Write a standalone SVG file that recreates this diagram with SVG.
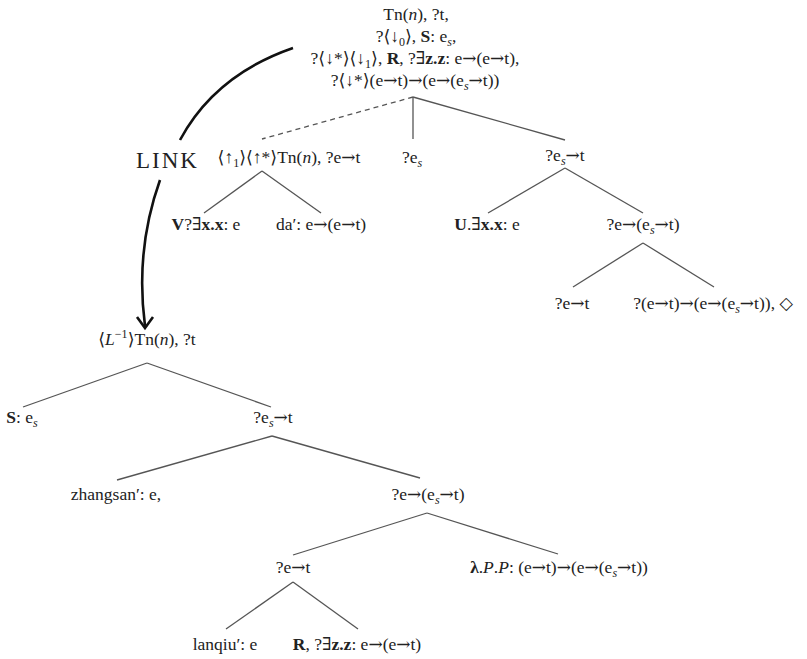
<svg xmlns="http://www.w3.org/2000/svg" width="807" height="659" viewBox="0 0 807 659">
<defs>
<style>
.t{font-family:"Liberation Serif","DejaVu Serif",serif;font-size:17.5px;fill:#222;text-anchor:middle}
.b{font-weight:bold}
.i{font-style:italic}
.s{font-size:12px;font-style:italic}
.sn{font-size:12px}
.a{font-family:"DejaVu Serif",serif;font-size:17px}
.e{stroke:#555;stroke-width:1.3;fill:none}
.d{stroke:#555;stroke-width:1.3;fill:none;stroke-dasharray:5 4}
.lk{stroke:#111;stroke-width:2.6;fill:none}
.link{font-family:"Liberation Serif","DejaVu Serif",serif;font-size:23px;fill:#222;letter-spacing:2px}
</style>
</defs>
<rect width="807" height="659" fill="#fff"/>
<g id="connectors">
<line class="d" x1="413" y1="97" x2="262" y2="139"/>
<line class="e" x1="413" y1="97" x2="413" y2="139"/>
<line class="e" x1="413" y1="97" x2="565" y2="140"/>
<line class="e" x1="262" y1="171" x2="204" y2="213"/>
<line class="e" x1="262" y1="171" x2="321" y2="213"/>
<line class="e" x1="565" y1="168" x2="488" y2="213"/>
<line class="e" x1="565" y1="168" x2="643" y2="213"/>
<line class="e" x1="643" y1="243" x2="573" y2="287"/>
<line class="e" x1="643" y1="243" x2="714" y2="287"/>
<line class="e" x1="147" y1="363" x2="23" y2="407"/>
<line class="e" x1="147" y1="363" x2="271" y2="407"/>
<line class="e" x1="272" y1="436" x2="117" y2="480"/>
<line class="e" x1="272" y1="436" x2="420" y2="478"/>
<line class="e" x1="427" y1="513" x2="293" y2="555"/>
<line class="e" x1="427" y1="513" x2="558" y2="554"/>
<line class="e" x1="293" y1="582" x2="226" y2="629"/>
<line class="e" x1="293" y1="582" x2="358" y2="629"/>
<path class="lk" d="M293,48 Q215,75 180,140"/>
<path class="lk" d="M160,180 Q135,250 145,326"/>
<path class="lk" d="M137,317 L145,328 L153,317" stroke-width="2.2"/>
</g>
<g id="root">
<text class="t" x="416" y="20">Tn(<tspan class="i">n</tspan>), ?t,</text>
<text class="t" x="416" y="42">?⟨↓<tspan class="sn" dy="4">0</tspan><tspan dy="-4">⟩, </tspan><tspan class="b">S</tspan>: e<tspan class="s" dy="4">s</tspan><tspan dy="-4">,</tspan></text>
<text class="t" x="415" y="64">?⟨↓*⟩⟨↓<tspan class="sn" dy="4">1</tspan><tspan dy="-4">⟩, </tspan><tspan class="b">R</tspan>, ?∃<tspan class="b">z.z</tspan>: e<tspan class="a">→</tspan>(e<tspan class="a">→</tspan>t),</text>
<text class="t" x="415" y="86">?⟨↓*⟩(e<tspan class="a">→</tspan>t)<tspan class="a">→</tspan>(e<tspan class="a">→</tspan>(e<tspan class="s" dy="4">s</tspan><tspan class="a" dy="-4">→</tspan>t))</text>
</g>
<g id="link-label">
<text class="link" x="136" y="168">LINK</text>
</g>
<g id="n-up">
<text class="t" x="289" y="163">⟨↑<tspan class="sn" dy="4">1</tspan><tspan dy="-4">⟩⟨↑*⟩Tn(</tspan><tspan class="i">n</tspan>), ?e<tspan class="a">→</tspan>t</text>
</g>
<g id="n-es">
<text class="t" x="412" y="163">?e<tspan class="s" dy="4">s</tspan></text>
</g>
<g id="n-est">
<text class="t" x="565" y="161">?e<tspan class="s" dy="4">s</tspan><tspan class="a" dy="-4">→</tspan>t</text>
</g>
<g id="n-v">
<text class="t" x="206" y="230"><tspan class="b">V</tspan>?∃<tspan class="b">x.x</tspan>: e</text>
</g>
<g id="n-da">
<text class="t" x="321" y="230">da′: e<tspan class="a">→</tspan>(e<tspan class="a">→</tspan>t)</text>
</g>
<g id="n-u">
<text class="t" x="487" y="230"><tspan class="b">U</tspan>.∃<tspan class="b">x.x</tspan>: e</text>
</g>
<g id="n-eest">
<text class="t" x="643" y="230">?e<tspan class="a">→</tspan>(e<tspan class="s" dy="4">s</tspan><tspan class="a" dy="-4">→</tspan>t)</text>
</g>
<g id="n-et1">
<text class="t" x="572" y="309">?e<tspan class="a">→</tspan>t</text>
</g>
<g id="n-pointer">
<text class="t" x="713" y="309">?(e<tspan class="a">→</tspan>t)<tspan class="a">→</tspan>(e<tspan class="a">→</tspan>(e<tspan class="s" dy="4">s</tspan><tspan class="a" dy="-4">→</tspan>t)), ◇</text>
</g>
<g id="n-linkroot">
<text class="t" x="147" y="345">⟨<tspan class="i">L</tspan><tspan class="sn" dy="-7">−1</tspan><tspan dy="7">⟩Tn(</tspan><tspan class="i">n</tspan>), ?t</text>
</g>
<g id="n-s">
<text class="t" x="22" y="423"><tspan class="b">S</tspan>: e<tspan class="s" dy="4">s</tspan></text>
</g>
<g id="n-est2">
<text class="t" x="273" y="423">?e<tspan class="s" dy="4">s</tspan><tspan class="a" dy="-4">→</tspan>t</text>
</g>
<g id="n-zhangsan">
<text class="t" x="116" y="500">zhangsan′: e,</text>
</g>
<g id="n-eest2">
<text class="t" x="428" y="500">?e<tspan class="a">→</tspan>(e<tspan class="s" dy="4">s</tspan><tspan class="a" dy="-4">→</tspan>t)</text>
</g>
<g id="n-et2">
<text class="t" x="293" y="573">?e<tspan class="a">→</tspan>t</text>
</g>
<g id="n-lambda">
<text class="t" x="559" y="573"><tspan class="b">λ</tspan>.<tspan class="i">P</tspan>.<tspan class="i">P</tspan>: (e<tspan class="a">→</tspan>t)<tspan class="a">→</tspan>(e<tspan class="a">→</tspan>(e<tspan class="s" dy="4">s</tspan><tspan class="a" dy="-4">→</tspan>t))</text>
</g>
<g id="n-lanqiu">
<text class="t" x="225" y="650">lanqiu′: e</text>
</g>
<g id="n-r">
<text class="t" x="357" y="650"><tspan class="b">R</tspan>, ?∃<tspan class="b">z.z</tspan>: e<tspan class="a">→</tspan>(e<tspan class="a">→</tspan>t)</text>
</g>
</svg>
